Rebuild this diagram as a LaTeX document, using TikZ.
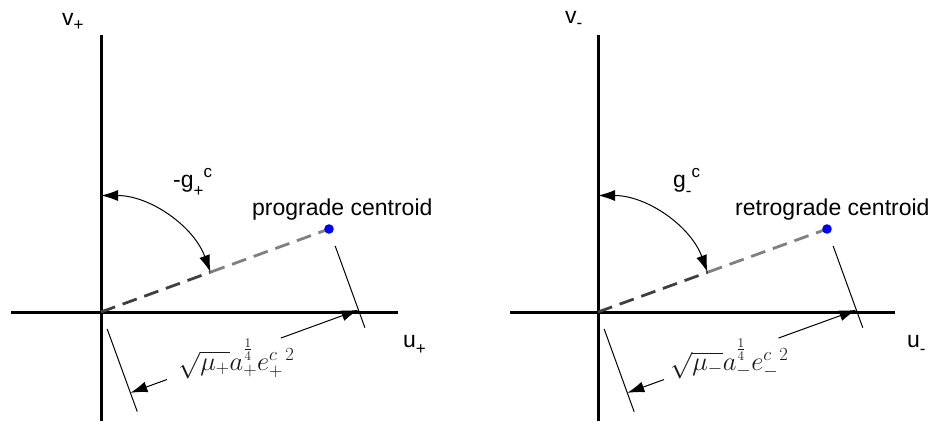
\documentclass[tikz,border=0pt]{standalone}
\usepackage{fix-cm}
\usepackage{amsmath, amssymb}
\usepackage{fontspec}
\setmainfont{Liberation Sans}
\usepackage{tikz}
\usetikzlibrary{calc, arrows.meta, positioning}

\newcommand{\lblsize}{\fontsize{23}{27}\selectfont}
\newcommand{\idxsize}{\fontsize{17}{19}\selectfont}
\newcommand{\mathsize}{\fontsize{26.5}{30}\selectfont}
\newcommand{\lowidx}[2][0.22em]{\raisebox{-#1}{\idxsize #2}}
\newcommand{\highidx}[2][0.40em]{\raisebox{#1}{\idxsize #2}}

\begin{document}
\begin{tikzpicture}[x=1pt, y=-1pt, >={Latex[length=17pt,width=11pt]},
    axis/.style={line width=3pt},
    thinline/.style={line width=1pt},
    guide/.style={line width=2.8pt, dash pattern=on 15pt off 8pt},
    lbl/.style={font=\lblsize, inner sep=0pt, anchor=base west},
    mlbl/.style={font=\mathsize, text=black!90, inner sep=0pt, anchor=base west}]
    \useasboundingbox (0,0) rectangle (938,421);

    % 1. Hệ trục bên trái (prograde)
    \coordinate (O1) at (101,312);
    \coordinate (C1) at (329,229);
    \coordinate (K1) at ($(O1)!0.48!(C1)$);
    \coordinate (xl1) at (11,312);
    \coordinate (xr1) at (398,312);
    \coordinate (yt1) at (101,35);
    \coordinate (yb1) at (101,421);
    \draw[axis] (xl1) -- (xr1);
    \draw[axis] (yt1) -- (yb1);
    \node[lbl] (v1) at (62,25) {v\lowidx{+}};
    \node[lbl] (u1) at (403,347) {u\lowidx[0.33em]{+}};

    % Đường nối tới tâm và góc
    \draw[guide, black!75] (O1) -- (K1);
    \draw[guide, black!50] (K1) -- (C1);
    \fill[blue] (C1) circle[radius=4.8];
    \draw[thinline, <->] ($(O1)+(0,-116.5)$) arc[start angle=-90, end angle=-20, radius=116.5];
    \node[lbl] (g1) at (173,187) {-g\lowidx[0.42em]{+}\highidx{c}};
    \node[lbl] (c1) at (252,215) {prograde centroid};

    % Kích thước
    \coordinate (E1a) at ($(O1)!18pt!-90:(C1)$);
    \coordinate (E1b) at ($(O1)!106pt!-90:(C1)$);
    \coordinate (F1a) at ($(C1)!18pt!90:(O1)$);
    \coordinate (F1b) at ($(C1)!105pt!90:(O1)$);
    \coordinate (D1a) at ($(O1)!86pt!-90:(C1)$);
    \coordinate (D1b) at ($(C1)!86pt!90:(O1)$);
    \draw[thinline] (E1a) -- (E1b);
    \draw[thinline] (F1a) -- (F1b);
    \draw[thinline, ->] ($(D1a)!0.16!(D1b)$) -- (D1a);
    \draw[thinline, ->] ($(D1a)!0.66!(D1b)$) -- (D1b);
    \node[mlbl] (len1) at (178,370) {$\sqrt{\mu_+}a_+^{\frac{1}{4}}e_+^{c\;\,2}$};

    % 2. Hệ trục bên phải (retrograde)
    \coordinate (O2) at (598,312);
    \coordinate (C2) at (827,229);
    \coordinate (K2) at ($(O2)!0.48!(C2)$);
    \coordinate (xl2) at (510,312);
    \coordinate (xr2) at (895,312);
    \coordinate (yt2) at (598,35);
    \coordinate (yb2) at (598,421);
    \draw[axis] (xl2) -- (xr2);
    \draw[axis] (yt2) -- (yb2);
    \node[lbl] (v2) at (565,23) {v\lowidx{-}};
    \node[lbl] (u2) at (907,347) {u\lowidx[0.33em]{-}};

    \draw[guide, black!75] (O2) -- (K2);
    \draw[guide, black!50] (K2) -- (C2);
    \fill[blue] (C2) circle[radius=4.8];
    \draw[thinline, <->] ($(O2)+(0,-116.5)$) arc[start angle=-90, end angle=-20, radius=116.5];
    \node[lbl] (g2) at (673,187) {g\lowidx[0.42em]{-}\highidx{c}};
    \node[lbl] (c2) at (735,215) {retrograde centroid};

    \coordinate (E2a) at ($(O2)!18pt!-90:(C2)$);
    \coordinate (E2b) at ($(O2)!106pt!-90:(C2)$);
    \coordinate (F2a) at ($(C2)!18pt!90:(O2)$);
    \coordinate (F2b) at ($(C2)!105pt!90:(O2)$);
    \coordinate (D2a) at ($(O2)!86pt!-90:(C2)$);
    \coordinate (D2b) at ($(C2)!86pt!90:(O2)$);
    \draw[thinline] (E2a) -- (E2b);
    \draw[thinline] (F2a) -- (F2b);
    \draw[thinline, ->] ($(D2a)!0.16!(D2b)$) -- (D2a);
    \draw[thinline, ->] ($(D2a)!0.66!(D2b)$) -- (D2b);
    \node[mlbl] (len2) at (670,370) {$\sqrt{\mu_-}a_-^{\frac{1}{4}}e_-^{c\;\,2}$};
\end{tikzpicture}
\end{document}
